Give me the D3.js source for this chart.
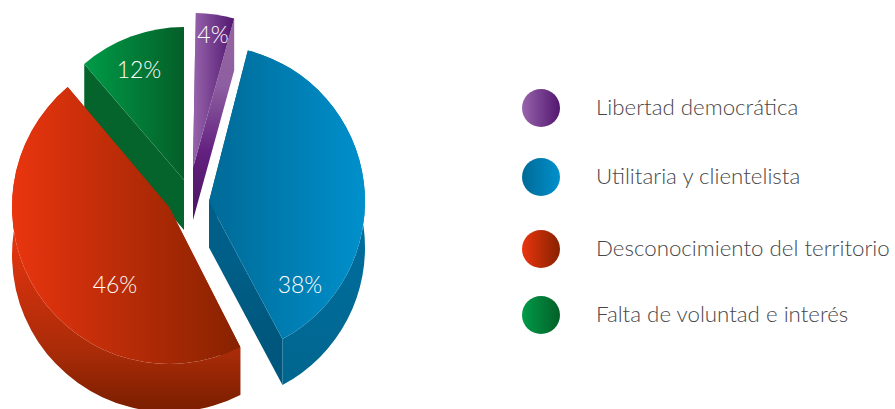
<!DOCTYPE html>
<html lang="es">
<head>
    <meta charset="UTF-8">
    <title>Pie chart</title>
    <script src="https://cdnjs.cloudflare.com/ajax/libs/d3/7.8.5/d3.min.js"></script>
    <style>
        body { margin: 0; background: white; }
        svg { display: block; }
        text { font-family: Lato, "Open Sans", sans-serif; font-weight: 300; }
        .legend-label { fill: #47474a; font-size: 22.3px; }
        .pct { fill: white; font-size: 23px; text-anchor: middle; }
    </style>
</head>
<body>
<div id="chart"></div>
<script>
    // values
    const categories = ['Libertad democrática', 'Utilitaria y clientelista', 'Desconocimiento del territorio', 'Falta de voluntad e interés'];
    const values = [4, 38, 46, 12];

    // exploded slice centres and label spots, same order as categories
    const centerX = [193, 209, 169, 184];
    const centerY = [168, 201.5, 207, 180];
    const radii = [155, 156, 157, 153];
    const depths = [52, 46, 48, 50];
    const startTurn = [1, 0, 1.8, 2.5];
    const endTurn = [1, 0.7, 3, 0];
    const labelX = [213, 300, 115, 139];
    const labelY = [43, 293, 293, 78];
    const legendY = [108, 177, 249, 315];

    const topColors = [['#9764ab', '#521670'], ['#006a97', '#0090cc'], ['#e9350f', '#872200'], ['#009b48', '#045f28']];
    // only the blue and red slices show their outer wall
    const rimStops = [
        null,
        [[0.6, '#006c9b'], [1, '#00668f']],
        [[0.46, '#e5340f'], [0.82, '#a82b08'], [0.98, '#7d1f00']],
        null
    ];
    const sideColors = [['#96659f', '#8d5ea1', '#63207f', '#4a1560'], ['#005f88', '#005f88', '#00587f', '#00557b'], ['#a02808', '#a02808', '#8a2300', '#8a2300'], ['#05632c', '#05632c', '#05632c', '#05632c']];

    const width = 895;
    const height = 409;
    const svg = d3.select('#chart').append('svg').attr('width', width).attr('height', height);
    const defs = svg.append('defs');

    function gradient(id, stops, vertical) {
        const g = defs.append('linearGradient').attr('id', id)
            .attr('x1', 0).attr('y1', 0)
            .attr('x2', vertical ? 0 : 1).attr('y2', vertical ? 1 : 0);
        stops.forEach(s => g.append('stop').attr('offset', s[0]).attr('stop-color', s[1]));
    }

    categories.forEach((_, i) => {
        gradient(`top${i}`, [[0, topColors[i][0]], [1, topColors[i][1]]], false);
        if (rimStops[i]) gradient(`rim${i}`, rimStops[i], true);
        gradient(`side${i}`, sideColors[i].map((c, k) => [k / 3, c]), true);
    });

    const rad = Math.PI / 180;
    const pie = d3.pie().sort(null).value(d => d);
    const slices = pie(values).map((d, i) => ({
        ...d, i,
        startAngle: d.startAngle + startTurn[i] * rad,
        endAngle: d.endAngle + endTurn[i] * rad,
        cx: centerX[i], cy: centerY[i], r: radii[i], depth: depths[i]
    }));

    // d3.path wants angles from the x axis, d3.arc from 12 o'clock
    const toPath = a => a - Math.PI / 2;

    function rimPath(s) {
        const a0 = toPath(s.startAngle), a1 = toPath(s.endAngle);
        const p = d3.path();
        p.moveTo(s.cx + s.r * Math.cos(a0), s.cy + s.r * Math.sin(a0));
        p.arc(s.cx, s.cy, s.r, a0, a1);
        p.lineTo(s.cx + s.r * Math.cos(a1), s.cy + s.depth + s.r * Math.sin(a1));
        p.arc(s.cx, s.cy + s.depth, s.r, a1, a0, true);
        p.closePath();
        return p.toString();
    }

    function sidePath(s, angle) {
        const a = toPath(angle);
        const ex = s.cx + s.r * Math.cos(a), ey = s.cy + s.r * Math.sin(a);
        const p = d3.path();
        p.moveTo(s.cx, s.cy);
        p.lineTo(ex, ey);
        p.lineTo(ex, ey + s.depth);
        p.lineTo(s.cx, s.cy + s.depth);
        p.closePath();
        return p.toString();
    }

    const arc = d3.arc().innerRadius(0).outerRadius(d => d.r);

    // green and purple first, the red slice sits over the green tip
    const drawOrder = [3, 0, 1, 2];
    const groups = svg.selectAll('g.slice')
        .data(drawOrder.map(i => slices[i]))
        .join('g')
        .attr('class', 'slice');

    groups.append('path').attr('d', d => sidePath(d, d.startAngle)).attr('fill', d => `url(#side${d.i})`);
    groups.append('path').attr('d', d => sidePath(d, d.endAngle)).attr('fill', d => `url(#side${d.i})`);
    groups.filter(d => rimStops[d.i]).append('path').attr('d', rimPath).attr('fill', d => `url(#rim${d.i})`);
    groups.append('path')
        .attr('d', arc)
        .attr('transform', d => `translate(${d.cx},${d.cy})`)
        .attr('fill', d => `url(#top${d.i})`);

    svg.selectAll('text.pct')
        .data(values)
        .join('text')
        .attr('class', 'pct')
        .attr('x', (_, i) => labelX[i])
        .attr('y', (_, i) => labelY[i])
        .text(d => `${d}%`);

    const legend = svg.selectAll('g.legend')
        .data(categories)
        .join('g')
        .attr('class', 'legend')
        .attr('transform', (_, i) => `translate(541,${legendY[i]})`);

    legend.append('circle').attr('r', 19).attr('fill', (_, i) => `url(#top${i})`);
    legend.append('text')
        .attr('class', 'legend-label')
        .attr('x', 55)
        .attr('y', 7)
        .text(d => d);
</script>
</body>
</html>
